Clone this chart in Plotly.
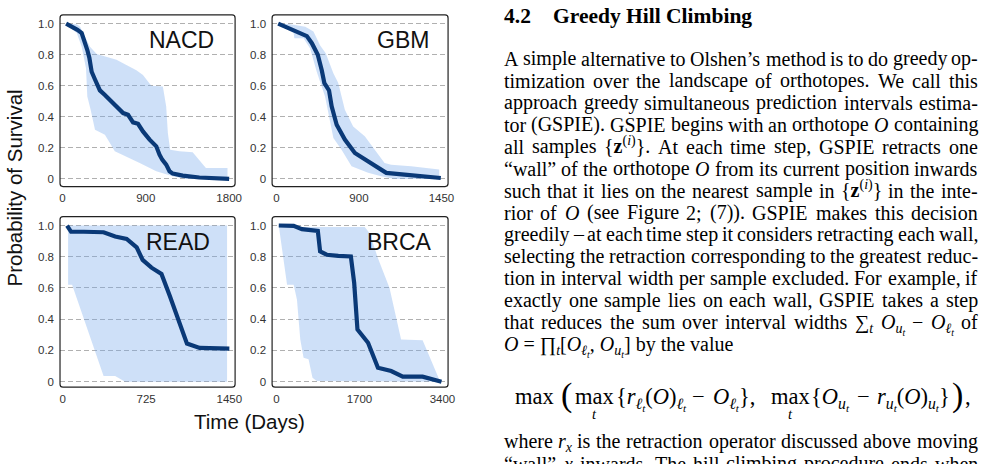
import plotly.graph_objects as go

W, H = 993, 464


def px(x):
    return x / W


def py(y):
    return 1 - y / H


# ---------------- data ----------------
nacd_days = [39, 100, 161, 207, 243, 268, 290, 315, 351, 404, 458, 512, 583, 655, 708,
             762, 816, 869, 941, 1013, 1048, 1077, 1120, 1156, 1191, 1299, 1478, 1657, 1800]
nacd_surv = [1.0, 0.983, 0.96, 0.94, 0.88, 0.83, 0.78, 0.69, 0.64, 0.57, 0.54, 0.51, 0.467, 0.424, 0.413,
             0.364, 0.355, 0.306, 0.253, 0.21, 0.156, 0.124, 0.092, 0.049, 0.034, 0.021, 0.009, 0.002, 0.0]
nacd_upper_days = [29, 154, 190, 243, 297, 369, 476, 583, 690, 798, 869, 959, 1084, 1120, 1138,
                   1163, 1263, 1406, 1549, 1782, 1782]
nacd_upper = [1.0, 0.996, 0.98, 0.916, 0.852, 0.805, 0.788, 0.767, 0.734, 0.70, 0.67, 0.60, 0.595, 0.467, 0.295,
              0.188, 0.178, 0.171, 0.07, 0.07, 0.0]
nacd_lower_days = [29, 154, 208, 254, 268, 304, 351, 458, 565, 690, 834, 1013, 1191, 1335, 1782]
nacd_lower = [1.0, 0.94, 0.85, 0.713, 0.53, 0.445, 0.317, 0.285, 0.178, 0.146, 0.103, 0.049, 0.017, 0.0, 0.0]

gbm_days = [15, 108, 195, 267, 311, 363, 398, 421, 462, 485, 529, 601, 689, 834, 965, 1125, 1299, 1444]
gbm_surv = [1.0, 0.97, 0.94, 0.92, 0.874, 0.80, 0.70, 0.617, 0.57, 0.467, 0.349, 0.253, 0.167, 0.103, 0.039,
            0.028, 0.017, 0.006]
gbm_upper_days = [15, 108, 253, 325, 384, 433, 500, 543, 601, 674, 776, 863, 950, 1008, 1183, 1430, 1430]
gbm_upper = [1.0, 0.998, 0.98, 0.95, 0.86, 0.81, 0.68, 0.617, 0.445, 0.338, 0.274, 0.188, 0.103, 0.092, 0.081,
             0.06, 0.0]
gbm_lower_days = [15, 151, 157, 238, 296, 354, 427, 500, 572, 660, 805, 921, 1037, 1430]
gbm_lower = [1.0, 0.94, 0.906, 0.906, 0.84, 0.69, 0.53, 0.263, 0.188, 0.081, 0.039, 0.017, 0.0, 0.0]

read_days = [37, 72, 182, 355, 456, 556, 643, 695, 772, 859, 931, 1018, 1081, 1191, 1450]
read_surv = [1.0, 0.96, 0.96, 0.957, 0.93, 0.914, 0.86, 0.78, 0.73, 0.69, 0.55, 0.38, 0.244, 0.216, 0.212]
read_upper_days = [46, 1430, 1430]
read_upper = [1.0, 1.0, 0.0]
read_lower_days = [46, 46, 81, 355, 456, 542, 1430]
read_lower = [1.0, 0.62, 0.62, 0.036, 0.036, 0.0, 0.0]

brca_days = [47, 352, 521, 847, 894, 1029, 1267, 1524, 1592, 1659, 1876, 2079, 2350, 2587, 2994, 3380]
brca_surv = [1.0, 0.998, 0.977, 0.966, 0.834, 0.813, 0.806, 0.802, 0.632, 0.334, 0.249, 0.089, 0.068, 0.032,
             0.032, 0.0]
brca_upper_days = [47, 115, 1808, 1910, 2079, 2316, 2553, 2994, 3332, 3332]
brca_upper = [1.0, 0.99, 0.99, 0.95, 0.79, 0.60, 0.27, 0.266, 0.015, 0.0]
brca_lower_days = [47, 217, 352, 420, 488, 555, 657, 738, 826, 3332]
brca_lower = [1.0, 0.62, 0.62, 0.525, 0.27, 0.153, 0.143, 0.026, 0.004, 0.0]

y_tick_values = [0, 0.2, 0.4, 0.6, 0.8, 1.0]
y_tick_labels = ["0", "0.2", "0.4", "0.6", "0.8", "1.0"]
nacd_xtick_values, nacd_xtick_labels = [0, 900, 1800], ["0", "900", "1800"]
gbm_xtick_values, gbm_xtick_labels = [0, 725, 1450], ["0", "900", "1450"]
read_xtick_values, read_xtick_labels = [0, 725, 1450], ["0", "725", "1450"]
brca_xtick_values, brca_xtick_labels = [0, 1700, 3400], ["0", "1700", "3400"]

panel_names = ["NACD", "GBM", "READ", "BRCA"]

# ---------------- layout of the panels (pixels) ----------------
panels = [
    dict(name=panel_names[0], d=nacd_days, s=nacd_surv, ud=nacd_upper_days, u=nacd_upper,
         ld=nacd_lower_days, l=nacd_lower, xv=nacd_xtick_values, xl=nacd_xtick_labels,
         box=(59.5, 15, 236, 187), xr=[-26.8, 1864.3], yr=[-0.0495, 1.0559], lab=(217, 40)),
    dict(name=panel_names[1], d=gbm_days, s=gbm_surv, ud=gbm_upper_days, u=gbm_upper,
         ld=gbm_lower_days, l=gbm_lower, xv=gbm_xtick_values, xl=gbm_xtick_labels,
         box=(273.3, 15, 450.7, 187), xr=[-38.4, 1508], yr=[-0.0495, 1.0559], lab=(433, 40)),
    dict(name=panel_names[2], d=read_days, s=read_surv, ud=read_upper_days, u=read_upper,
         ld=read_lower_days, l=read_lower, xv=read_xtick_values, xl=read_xtick_labels,
         box=(59.5, 217, 236, 388), xr=[-24.2, 1500], yr=[-0.035, 1.0575], lab=(213, 243)),
    dict(name=panel_names[3], d=brca_days, s=brca_surv, ud=brca_upper_days, u=brca_upper,
         ld=brca_lower_days, l=brca_lower, xv=brca_xtick_values, xl=brca_xtick_labels,
         box=(273.3, 217, 450.7, 388), xr=[-89.4, 3515], yr=[-0.035, 1.0575], lab=(437, 243)),
]

SANS = "Liberation Sans, Arial, Helvetica, sans-serif"
SERIF = "Liberation Serif, Times New Roman, serif"
NAVY = "#0a3977"
BAND = "rgba(120,170,235,0.36)"

fig = go.Figure()
annotations = []
shapes = []

for i, p in enumerate(panels, start=1):
    xa = "x" if i == 1 else f"x{i}"
    ya = "y" if i == 1 else f"y{i}"
    bx0, by0, bx1, by1 = p["box"]
    fig.add_trace(go.Scatter(
        x=p["ud"] + p["ld"][::-1], y=p["u"] + p["l"][::-1],
        fill="toself", fillcolor=BAND, line=dict(width=0), mode="lines",
        hoverinfo="skip", showlegend=False, xaxis=xa, yaxis=ya))
    fig.add_trace(go.Scatter(
        x=p["d"], y=p["s"], mode="lines", line=dict(color=NAVY, width=4.2),
        showlegend=False, xaxis=xa, yaxis=ya))
    common = dict(showline=False, zeroline=False, ticks="", fixedrange=True,
                  tickfont=dict(family=SANS, size=11.5, color="#333"))
    fig.layout[f"xaxis{'' if i == 1 else i}"] = dict(
        domain=[px(bx0), px(bx1)], range=p["xr"], anchor=ya, showgrid=False,
        tickmode="array", tickvals=p["xv"], ticktext=p["xl"], ticklabelstandoff=3, **common)
    fig.layout[f"yaxis{'' if i == 1 else i}"] = dict(
        domain=[py(by1), py(by0)], range=p["yr"], anchor=xa, showgrid=True,
        gridcolor="#b0b0b0", gridwidth=1, griddash="5px,3px",
        tickmode="array", tickvals=y_tick_values, ticktext=y_tick_labels,
        ticklabelstandoff=5, **common)
    r = 3
    pts = (f"M {px(bx0 + r)},{py(by0)} L {px(bx1 - r)},{py(by0)} "
           f"Q {px(bx1)},{py(by0)} {px(bx1)},{py(by0 + r)} L {px(bx1)},{py(by1 - r)} "
           f"Q {px(bx1)},{py(by1)} {px(bx1 - r)},{py(by1)} L {px(bx0 + r)},{py(by1)} "
           f"Q {px(bx0)},{py(by1)} {px(bx0)},{py(by1 - r)} L {px(bx0)},{py(by0 + r)} "
           f"Q {px(bx0)},{py(by0)} {px(bx0 + r)},{py(by0)} Z")
    shapes.append(dict(type="path", path=pts, xref="paper", yref="paper",
                       line=dict(color="#222", width=1.2), layer="above"))
    annotations.append(dict(text=p["name"], x=px(p["lab"][0]), y=py(p["lab"][1]),
                            xref="paper", yref="paper", xanchor="right", yanchor="middle",
                            showarrow=False, font=dict(family=SANS, size=23, color="#111")))

annotations.append(dict(text="Probability of Survival", x=px(14), y=py(188), xref="paper", yref="paper",
                        textangle=-90, showarrow=False, xanchor="center", yanchor="middle",
                        font=dict(family=SANS, size=20.5, color="#111")))
annotations.append(dict(text="Time (Days)", x=px(250.5), y=py(422), xref="paper", yref="paper",
                        showarrow=False, xanchor="center", yanchor="middle",
                        font=dict(family=SANS, size=20.5, color="#111")))

# ---------------- paper text on the right ----------------
heading_number = "4.2"
heading_title = "Greedy Hill Climbing"
body_lines = [
    "A simple alternative to Olshen’s method is to do greedy op-",
    "timization over the landscape of orthotopes. We call this",
    "approach greedy simultaneous prediction intervals estima-",
    "tor (GSPIE). GSPIE begins with an orthotope <i>O</i> containing",
    "all samples {<b>z</b><sup>(<i>i</i>)</sup>}. At each time step, GSPIE retracts one",
    "“wall” of the orthotope <i>O</i> from its current position inwards",
    "such that it lies on the nearest sample in {<b>z</b><sup>(<i>i</i>)</sup>} in the inte-",
    "rior of <i>O</i> (see Figure 2; (7)). GSPIE makes this decision",
    "greedily – at each time step it considers retracting each wall,",
    "selecting the retraction corresponding to the greatest reduc-",
    "tion in interval width per sample excluded. For example, if",
    "exactly one sample lies on each wall, GSPIE takes a step",
    "that reduces the sum over interval widths ∑<sub><i>t</i></sub> <i>O</i><sub><i>u</i><sub><i>t</i></sub></sub> − <i>O</i><sub><i>ℓ</i><sub><i>t</i></sub></sub> of",
]
last_para_line = "<i>O</i> = ∏<sub><i>t</i></sub>[<i>O</i><sub><i>ℓ</i><sub><i>t</i></sub></sub>, <i>O</i><sub><i>u</i><sub><i>t</i></sub></sub>] by the value"
after_lines = [
    "where <i>r</i><sub><i>x</i></sub> is the retraction operator discussed above moving",
    "“wall” <i>x</i> inwards. The hill climbing procedure ends when",
]
EFS = 22.5
# display equation: (piece, font size, space after in em)
eq_pieces = [
    ("max", EFS, 0.3),
    ("(", 34, 0.1),
    ("max", EFS, 0.05),
    ("{<i>r</i><sub><i>ℓ</i><sub><i>t</i></sub></sub>(<i>O</i>)<sub><i>ℓ</i><sub><i>t</i></sub></sub>", EFS, 0.3),
    ("−", EFS, 0.3),
    ("<i>O</i><sub><i>ℓ</i><sub><i>t</i></sub></sub>},", EFS, 0.6),
    ("max", EFS, 0.05),
    ("{<i>O</i><sub><i>u</i><sub><i>t</i></sub></sub>", EFS, 0.3),
    ("−", EFS, 0.3),
    ("<i>r</i><sub><i>u</i><sub><i>t</i></sub></sub>(<i>O</i>)<sub><i>u</i><sub><i>t</i></sub></sub>}", EFS, 0.1),
    (")", 34, 0.1),
    (",", EFS, 0.0),
]
eq_limit_label = "<i>t</i>"

# Times-Roman advance widths (1/1000 em), used to justify the column
TIMES = {' ': 250, '!': 333, '(': 333, ')': 333, ',': 250, '-': 333, '.': 250, ';': 278, ':': 278,
         '0': 500, '1': 500, '2': 500, '3': 500, '4': 500, '5': 500, '6': 500, '7': 500, '8': 500, '9': 500,
         'A': 722, 'B': 667, 'C': 667, 'D': 722, 'E': 611, 'F': 556, 'G': 722, 'H': 722, 'I': 333, 'J': 389,
         'K': 722, 'L': 611, 'M': 889, 'N': 722, 'O': 722, 'P': 556, 'Q': 722, 'R': 667, 'S': 556, 'T': 611,
         'U': 722, 'V': 722, 'W': 944, 'X': 722, 'Y': 722, 'Z': 611, '[': 333, ']': 333,
         'a': 444, 'b': 500, 'c': 444, 'd': 500, 'e': 444, 'f': 333, 'g': 500, 'h': 500, 'i': 278, 'j': 278,
         'k': 500, 'l': 278, 'm': 778, 'n': 500, 'o': 500, 'p': 500, 'q': 500, 'r': 333, 's': 389, 't': 278,
         'u': 500, 'v': 500, 'w': 722, 'x': 500, 'y': 500, 'z': 444, '{': 480, '}': 480,
         '“': 444, '”': 444, '’': 333, '–': 500, '−': 564, '∑': 720, '∏': 820, 'ℓ': 420, '=': 564}


def rich_width(s, size):
    w, depth, k = 0.0, 0, 0
    while k < len(s):
        if s[k] == '<':
            j = s.index('>', k)
            tag = s[k + 1:j]
            if tag in ('sub', 'sup'):
                depth += 1
            elif tag in ('/sub', '/sup'):
                depth -= 1
            k = j + 1
            continue
        w += TIMES.get(s[k], 500) / 1000 * size * (0.7 ** depth)
        k += 1
    return w * 1.012


def v_offset(s, size):
    # compensate bbox growth caused by sub/superscripts so baselines line up
    if '<sub><i>ℓ</i><sub>' in s or '<sub><i>u</i><sub>' in s:
        return 0.12 * size
    if '<sub>' in s:
        return 0.075 * size
    if '<sup>' in s:
        return -0.075 * size
    return 0.0


TX0, TX1 = 507, 985
FS = 20


def txt(s, x, y, size=FS, anchor="left", bold=False):
    annotations.append(dict(text=f"<b>{s}</b>" if bold else s, x=px(x), y=py(y + v_offset(s, size)),
                            xref="paper", yref="paper", borderpad=0, borderwidth=0,
                            showarrow=False, xanchor=anchor, yanchor="middle",
                            font=dict(family=SERIF, size=size, color="#000")))


def justified(line, y, size=FS):
    words = line.split()
    widths = [rich_width(w, size) for w in words]
    gap = (TX1 - TX0 - sum(widths)) / (len(words) - 1)
    x = TX0
    for n, (w, ww) in enumerate(zip(words, widths)):
        if n == 0:
            txt(w, TX0, y, size, anchor="left")
        elif n == len(words) - 1:
            txt(w, TX1, y, size, anchor="right")
        else:
            txt(w, x + ww / 2, y, size, anchor="center")
        x += ww + gap


txt(heading_number, TX0, 16, size=21.5, bold=True)
txt(heading_title, 556.5, 16, size=21.5, bold=True)
LINE0, LSTEP = 59, 22
for k, line in enumerate(body_lines):
    justified(line, LINE0 + LSTEP * k)
txt(last_para_line, TX0, LINE0 + LSTEP * len(body_lines))

# equation: natural widths, spaces stretched to span the measured extent
EQY, EQ0, EQ1 = 397, 518, 978
ew = [rich_width(s, sz) for s, sz, _ in eq_pieces]
es = [sp * EFS for _, _, sp in eq_pieces]
stretch = (EQ1 - EQ0 - sum(ew)) / sum(es)
x = EQ0
for (s, sz, _), w, sp in zip(eq_pieces, ew, es):
    big = sz > 25
    txt(s, x, EQY - (1 if big else 0), size=sz, anchor="left")
    if s == "max" and x > EQ0 + 5:
        txt(eq_limit_label, x + w / 2, EQY + 18, size=14.5, anchor="center")
    x += w + sp * stretch

justified(after_lines[0], 442)
justified(after_lines[1], 465)

fig.update_layout(width=W, height=H, margin=dict(l=0, r=0, t=0, b=0),
                  paper_bgcolor="white", plot_bgcolor="white",
                  annotations=annotations, shapes=shapes, showlegend=False)
fig.write_html("out.html")
